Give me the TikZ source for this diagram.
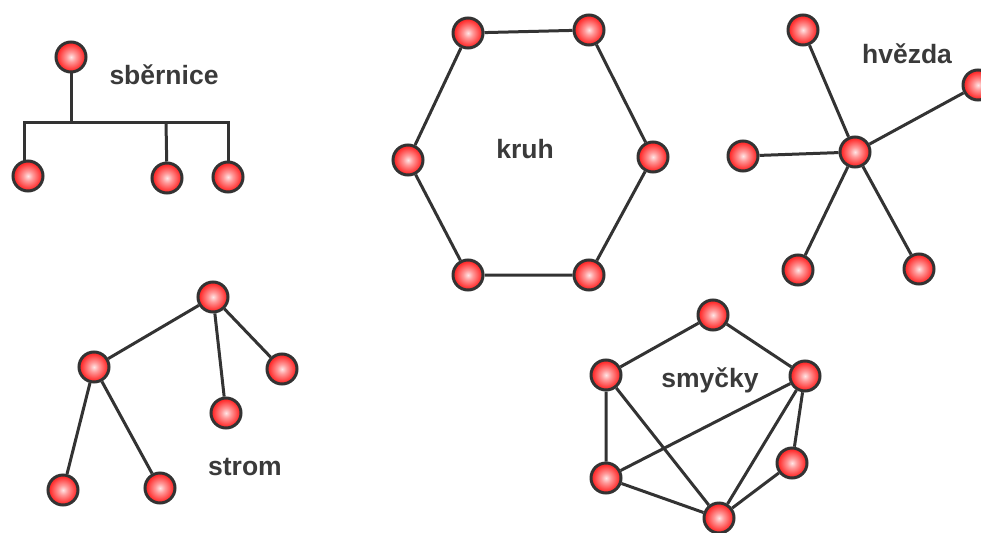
\documentclass[tikz,border=0pt]{standalone}
\usepackage{fontspec}
\setmainfont{Liberation Sans}
\definecolor{edgegray}{HTML}{333333}
\definecolor{textgray}{HTML}{3A3A3A}
\pgfdeclareradialshading{redball}{\pgfpoint{0bp}{0bp}}{%
  color(0bp)=(red!10!white);
  color(8bp)=(red!40!white);
  color(22bp)=(red!82!white);
  color(38bp)=(red!97!white);
  color(50bp)=(red!88!black)}
\tikzset{
  ball/.style={circle, draw=edgegray, line width=3pt, minimum size=30pt,
    inner sep=0pt, shading=redball},
  link/.style={draw=edgegray, line width=3pt},
  lbl/.style={text=textgray, font=\fontsize{26.5}{30}\selectfont\bfseries}
}
\begin{document}
\begin{tikzpicture}[x=1pt, y=-1pt]
\useasboundingbox (0,0) rectangle (981,532);

% --- bus topology ---
\node[ball] (b0) at (71,57) {};
\coordinate (busL) at (24,122);
\coordinate (busR) at (228,122);
\coordinate (busT) at (71,122);
\coordinate (busM) at (166,122);
\coordinate (busD) at (24,162);
\draw[link] (b0) -- (busT);
\draw[link, line cap=rect] (busL) -- (busR);
\draw[link] (busL) -- (busD);
\node[ball] (b1) at (28,176) {};
\node[ball] (b2) at (167,178) {};
\node[ball] (b3) at (228,177) {};
\draw[link] (busM) -- (b2);
\draw[link] (busR) -- (b3);
\node[lbl] (tbus) at (164,75) {sběrnice};

% --- ring topology ---
\node[ball] (k1) at (468,33) {};
\node[ball] (k2) at (589,30) {};
\node[ball] (k3) at (653,157) {};
\node[ball] (k4) at (589,275) {};
\node[ball] (k5) at (468,275) {};
\node[ball] (k6) at (408,160) {};
\draw[link] (k1) -- (k2) (k2) -- (k3) (k3) -- (k4) (k4) -- (k5) (k5) -- (k6) (k6) -- (k1);
\node[lbl] (tring) at (525,149) {kruh};

% --- star topology ---
\node[ball] (s0) at (855,152) {};
\node[ball] (s1) at (803,30) {};
\node[ball] (s2) at (978,85) {};
\node[ball] (s3) at (743,156) {};
\node[ball] (s4) at (798,270) {};
\node[ball] (s5) at (919,269) {};
\draw[link] (s0) -- (s1) (s0) -- (s2) (s0) -- (s3) (s0) -- (s4) (s0) -- (s5);
\node[lbl] (tstar) at (907,54) {hvězda};

% --- tree topology ---
\node[ball] (t0) at (213,297) {};
\node[ball] (t1) at (94,367) {};
\node[ball] (t2) at (282,369) {};
\node[ball] (t3) at (226,413) {};
\node[ball] (t4) at (63,490) {};
\node[ball] (t5) at (160,488) {};
\draw[link] (t0) -- (t1) (t0) -- (t2) (t0) -- (t3) (t1) -- (t4) (t1) -- (t5);
\node[lbl] (ttree) at (245,467) {strom};

% --- mesh topology ---
\node[ball] (m1) at (713,315) {};
\node[ball] (m2) at (606,375) {};
\node[ball] (m3) at (805,376) {};
\node[ball] (m4) at (606,478) {};
\node[ball] (m5) at (792,463) {};
\node[ball] (m6) at (719,518) {};
\draw[link] (m1) -- (m2) (m1) -- (m3) (m2) -- (m4) (m2) -- (m6)
  (m3) -- (m4) (m3) -- (m6) (m3) -- (m5) (m4) -- (m6) (m5) -- (m6);
\node[lbl] (tmesh) at (710,380) {smyčky};
\end{tikzpicture}
\end{document}
